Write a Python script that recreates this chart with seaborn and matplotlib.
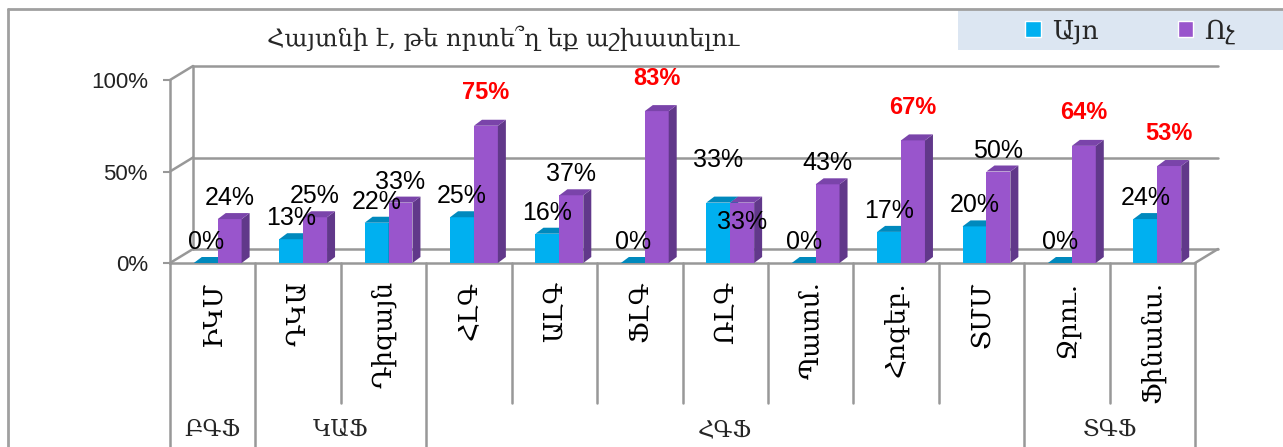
import numpy as np
import pandas as pd
import seaborn as sns
import matplotlib.pyplot as plt
from matplotlib.patches import Polygon, Rectangle, Patch
from matplotlib.lines import Line2D
from matplotlib.transforms import blended_transform_factory

# data
categories = ['ԻԿՄ', 'ԴԿԱ', 'Դիզայն', 'ՀԼԳ', 'ԱԼԳ', 'ՖԼԳ', 'ՌԼԳ',
              'Պատմ.', 'Հոգեբ.', 'ՏՄՄ', 'Ջրու.', 'Ֆինանս.']
yes_vals = [0, 13, 22, 25, 16, 0, 33, 0, 17, 20, 0, 24]
no_vals = [24, 25, 33, 75, 37, 83, 33, 43, 67, 50, 64, 53]
series = ['Այո', 'Ոչ']
groups = ['ԲԳՖ', 'ԿԱՖ', 'ՀԳՖ', 'ՏԳՖ']
group_sizes = [1, 2, 7, 2]
title = 'Հայտնի է, թե որտե՞ղ եք աշխատելու'

sns.set_style('white')
plt.rcParams['font.family'] = ['Liberation Sans', 'DejaVu Sans']
serif = ['DejaVu Serif', 'DejaVu Sans']

blue, purple = '#00B0F0', '#9955CC'
face_cols = {0: ('#0089BD', '#0078A8'), 1: ('#7A44AA', '#61388A')}  # top, side
grey = '#989898'

df = pd.DataFrame({
    'cat': categories * 2,
    'series': [series[0]] * len(categories) + [series[1]] * len(categories),
    'val': yes_vals + no_vals,
})

W, H = 1283, 447
fig = plt.figure(figsize=(W / 100, H / 100), dpi=100)
ax = fig.add_axes([170 / W, (H - 263) / H, 1025 / W, 183 / H])

sns.barplot(data=df, x='cat', y='val', hue='series', hue_order=series,
            palette=[blue, purple], width=0.56, saturation=1, ax=ax,
            legend=False, errorbar=None)

ax.set_xlim(-0.5, len(categories) - 0.5)
ax.set_ylim(0, 100)
ux = len(categories) / 1025.0   # data units per pixel
uy = 100 / 183.0

# pseudo 3d walls / floor
X0, X1 = -0.5, len(categories) - 0.5
DX, DY = 23 * ux, 14 * uy
lk = dict(color=grey, lw=1.8, clip_on=False, zorder=0.5)
for y in (0, 50, 100):
    ax.plot([X0 + DX, X1 + DX], [y + DY, y + DY], **lk)
    ax.plot([X0, X0 + DX], [y, y + DY], **lk)
ax.plot([X0 + DX, X0 + DX], [DY, 100 + DY], **lk)
ax.plot([X0, X1], [0, 0], **lk)
ax.plot([X1, X1 + DX], [0, DY], **lk)

# bars with side and top faces
dx, dy = 8 * ux, 6 * uy
shift = 5 * ux
special = {(6, 0): 43, (6, 1): -19}
for si, cont in enumerate(ax.containers):
    top_c, side_c = face_cols[si]
    for j, bar in enumerate(cont):
        bar.set_x(bar.get_x() + shift)
        bar.set_zorder(2 + si)
        bar.set_edgecolor('none')
        x0 = bar.get_x()
        w = bar.get_width()
        h = bar.get_height()
        x1 = x0 + w
        ax.add_patch(Polygon([(x1, 0), (x1 + dx, dy), (x1 + dx, h + dy), (x1, h)],
                             closed=True, fc=side_c, ec='none', zorder=2 + si))
        ax.add_patch(Polygon([(x0, h), (x1, h), (x1 + dx, h + dy), (x0 + dx, h + dy)],
                             closed=True, fc=top_c, ec='none', zorder=2 + si))
        val = int(round(h))
        red = si == 1 and val > 50
        off = special.get((j, si), 33 if red else 21)
        ax.annotate(f'{val}%', (x0 + w / 2, h), xytext=(0, off * 0.72),
                    textcoords='offset points', ha='center', va='center',
                    fontsize=18 if not red else 17, color='red' if red else 'black',
                    fontweight='bold' if red else 'normal', zorder=6,
                    annotation_clip=False)

# axis styling
for s in ['top', 'right', 'bottom']:
    ax.spines[s].set_visible(False)
ax.spines['left'].set_color(grey)
ax.spines['left'].set_linewidth(1.8)
ax.set_yticks([0, 50, 100])
ax.set_yticklabels(['0%', '50%', '100%'])
ax.tick_params(axis='y', length=5, width=1.5, color=grey, pad=11,
               labelsize=16, labelcolor='#222222', left=True)
ax.set_xticks([])
ax.set_xlabel('')
ax.set_ylabel('')

# category table under the axis
trans = blended_transform_factory(ax.transData, ax.transAxes)
row_bot = -(403 - 263) / 183.0
tab_bot = -1.1
bounds = list(np.cumsum(group_sizes) - 0.5)
ax.plot([X0, X0], [0, tab_bot], transform=trans, **lk)
for i in range(1, len(categories) + 1):
    xb = i - 0.5
    yb = tab_bot if xb in bounds else row_bot
    ax.plot([xb, xb], [0, yb], transform=trans, **lk)
for i, c in enumerate(categories):
    ax.text(i, -18 / 183.0, c, transform=trans, rotation=90, ha='center',
            va='top', fontsize=19, family=serif, color='black')
start = 0
for g, n in zip(groups, group_sizes):
    ax.text(start + (n - 1) / 2, -(430 - 263) / 183.0, g, transform=trans,
            ha='center', va='center', fontsize=16.5, family=serif)
    start += n

# title
fig.text(0.392, 1 - 38 / H, title, ha='center', va='center', fontsize=17.5,
         family=serif)

# legend box
fig.patches.append(Rectangle((958 / W, 1 - 50 / H), (W - 958) / W, 40 / H,
                             transform=fig.transFigure, fc='#DCE6F2', ec='none',
                             zorder=0))
handles = [Patch(fc=blue), Patch(fc=purple)]
fig.legend(handles, series, loc='center', bbox_to_anchor=(1130 / W, 1 - 31 / H),
           ncol=2, frameon=False, prop={'family': serif, 'size': 19},
           handlelength=0.6, handleheight=0.6, columnspacing=3.0,
           handletextpad=0.4)

# outer frame
fig.add_artist(Line2D([8 / W, 1], [1 - 9 / H, 1 - 9 / H], color='#A0A0A0', lw=2))
fig.add_artist(Line2D([8 / W, 8 / W], [0, 1 - 9 / H], color='#A0A0A0', lw=2))

fig.savefig('out.png', dpi=100)
